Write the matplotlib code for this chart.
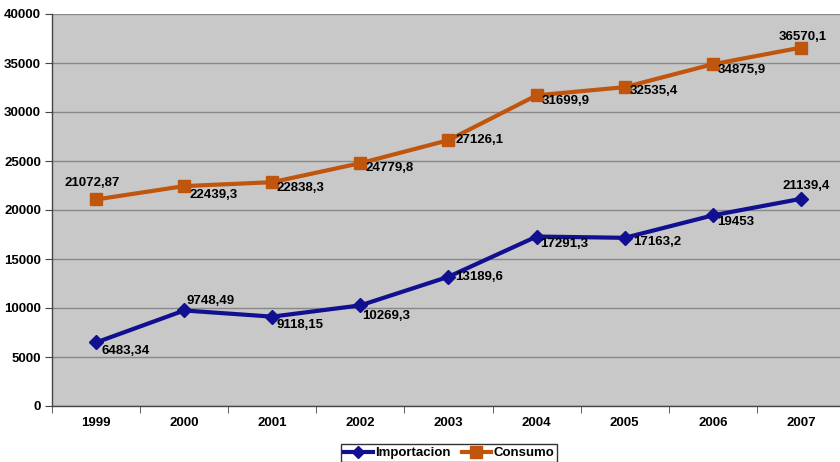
import matplotlib
matplotlib.use("Agg")
import matplotlib.pyplot as plt
from matplotlib.lines import Line2D

years = ["1999", "2000", "2001", "2002", "2003", "2004", "2005", "2006", "2007"]
importacion = [6483.34, 9748.49, 9118.15, 10269.3, 13189.6, 17291.3, 17163.2, 19453, 21139.4]
consumo = [21072.87, 22439.3, 22838.3, 24779.8, 27126.1, 31699.9, 32535.4, 34875.9, 36570.1]
imp_labels = ["6483,34", "9748,49", "9118,15", "10269,3", "13189,6", "17291,3", "17163,2", "19453", "21139,4"]
con_labels = ["21072,87", "22439,3", "22838,3", "24779,8", "27126,1", "31699,9", "32535,4", "34875,9", "36570,1"]

# label placement (pixel offsets, ha)
imp_pos = [(5, -9, 'left'), (2, 9, 'left'), (4, -8, 'left'), (2, -11, 'left'), (7, 0, 'left'),
           (4, -7, 'left'), (8, -4, 'left'), (4, -7, 'left'), (5, 13, 'center')]
con_pos = [(-4, 16, 'center'), (5, -9, 'left'), (4, -6, 'left'), (5, -5, 'left'), (7, 0, 'left'),
           (5, -6, 'left'), (5, -4, 'left'), (5, -6, 'left'), (2, 11, 'center')]

FS = 9.5
plt.rcParams['font.family'] = ['Liberation Sans', 'DejaVu Sans']
fig = plt.figure(figsize=(8.4, 4.62), dpi=100)
W, H = 840, 462
ax = fig.add_axes([52 / W, 56 / H, (845 - 52) / W, (406 - 14) / H])
ax.set_facecolor('#C8C8C8')

x = list(range(len(years)))
c_imp = '#101090'
c_con = '#C0560E'
ax.plot(x, importacion, color=c_imp, lw=3, marker='D', ms=7, mfc=c_imp, mec=c_imp, zorder=3)
ax.plot(x, consumo, color=c_con, lw=3, marker='s', ms=9, mfc=c_con, mec=c_con, zorder=3)

for xi, v, lab, (dx, dy, ha) in zip(x, importacion, imp_labels, imp_pos):
    ax.annotate(lab, (xi, v), xytext=(dx, dy), textcoords='offset pixels', ha=ha, va='center',
                fontsize=FS, fontweight='bold', color='black', zorder=4)
for xi, v, lab, (dx, dy, ha) in zip(x, consumo, con_labels, con_pos):
    ax.annotate(lab, (xi, v), xytext=(dx, dy), textcoords='offset pixels', ha=ha, va='center',
                fontsize=FS, fontweight='bold', color='black', zorder=4)

ax.set_xlim(-0.5, 8.5)
ax.set_ylim(0, 40000)
ax.set_yticks(range(0, 40001, 5000))
ax.set_yticklabels([str(v) for v in range(0, 40001, 5000)], fontsize=FS, fontweight='bold')
ax.set_xticks(x)
ax.set_xticklabels(years, fontsize=FS, fontweight='bold')
ax.set_xticks([i - 0.5 for i in range(len(years) + 1)], minor=True)
ax.tick_params(axis='x', which='major', length=0, pad=8)
ax.tick_params(axis='x', which='minor', length=5, color='#444444')
ax.tick_params(axis='y', length=5, color='#444444', pad=3)
ax.yaxis.grid(True, color='#888888', lw=1)
ax.set_axisbelow(True)
for s in ['top', 'right']:
    ax.spines[s].set_visible(False)
for s in ['left', 'bottom']:
    ax.spines[s].set_color('#444444')
    ax.spines[s].set_linewidth(1)

handles = [Line2D([], [], color=c_imp, lw=3, marker='D', ms=6),
           Line2D([], [], color=c_con, lw=3, marker='s', ms=8)]
leg = fig.legend(handles, ['Importacion', 'Consumo'], loc='center', bbox_to_anchor=(449 / W, 1 - 453 / H),
                 ncol=2, frameon=True, fancybox=False, handlelength=2.2, handletextpad=0.2,
                 columnspacing=0.8, borderpad=0.2, prop={'weight': 'bold', 'size': FS})
leg.get_frame().set_edgecolor('black')
leg.get_frame().set_linewidth(1)

fig.savefig('out.png', dpi=100)
